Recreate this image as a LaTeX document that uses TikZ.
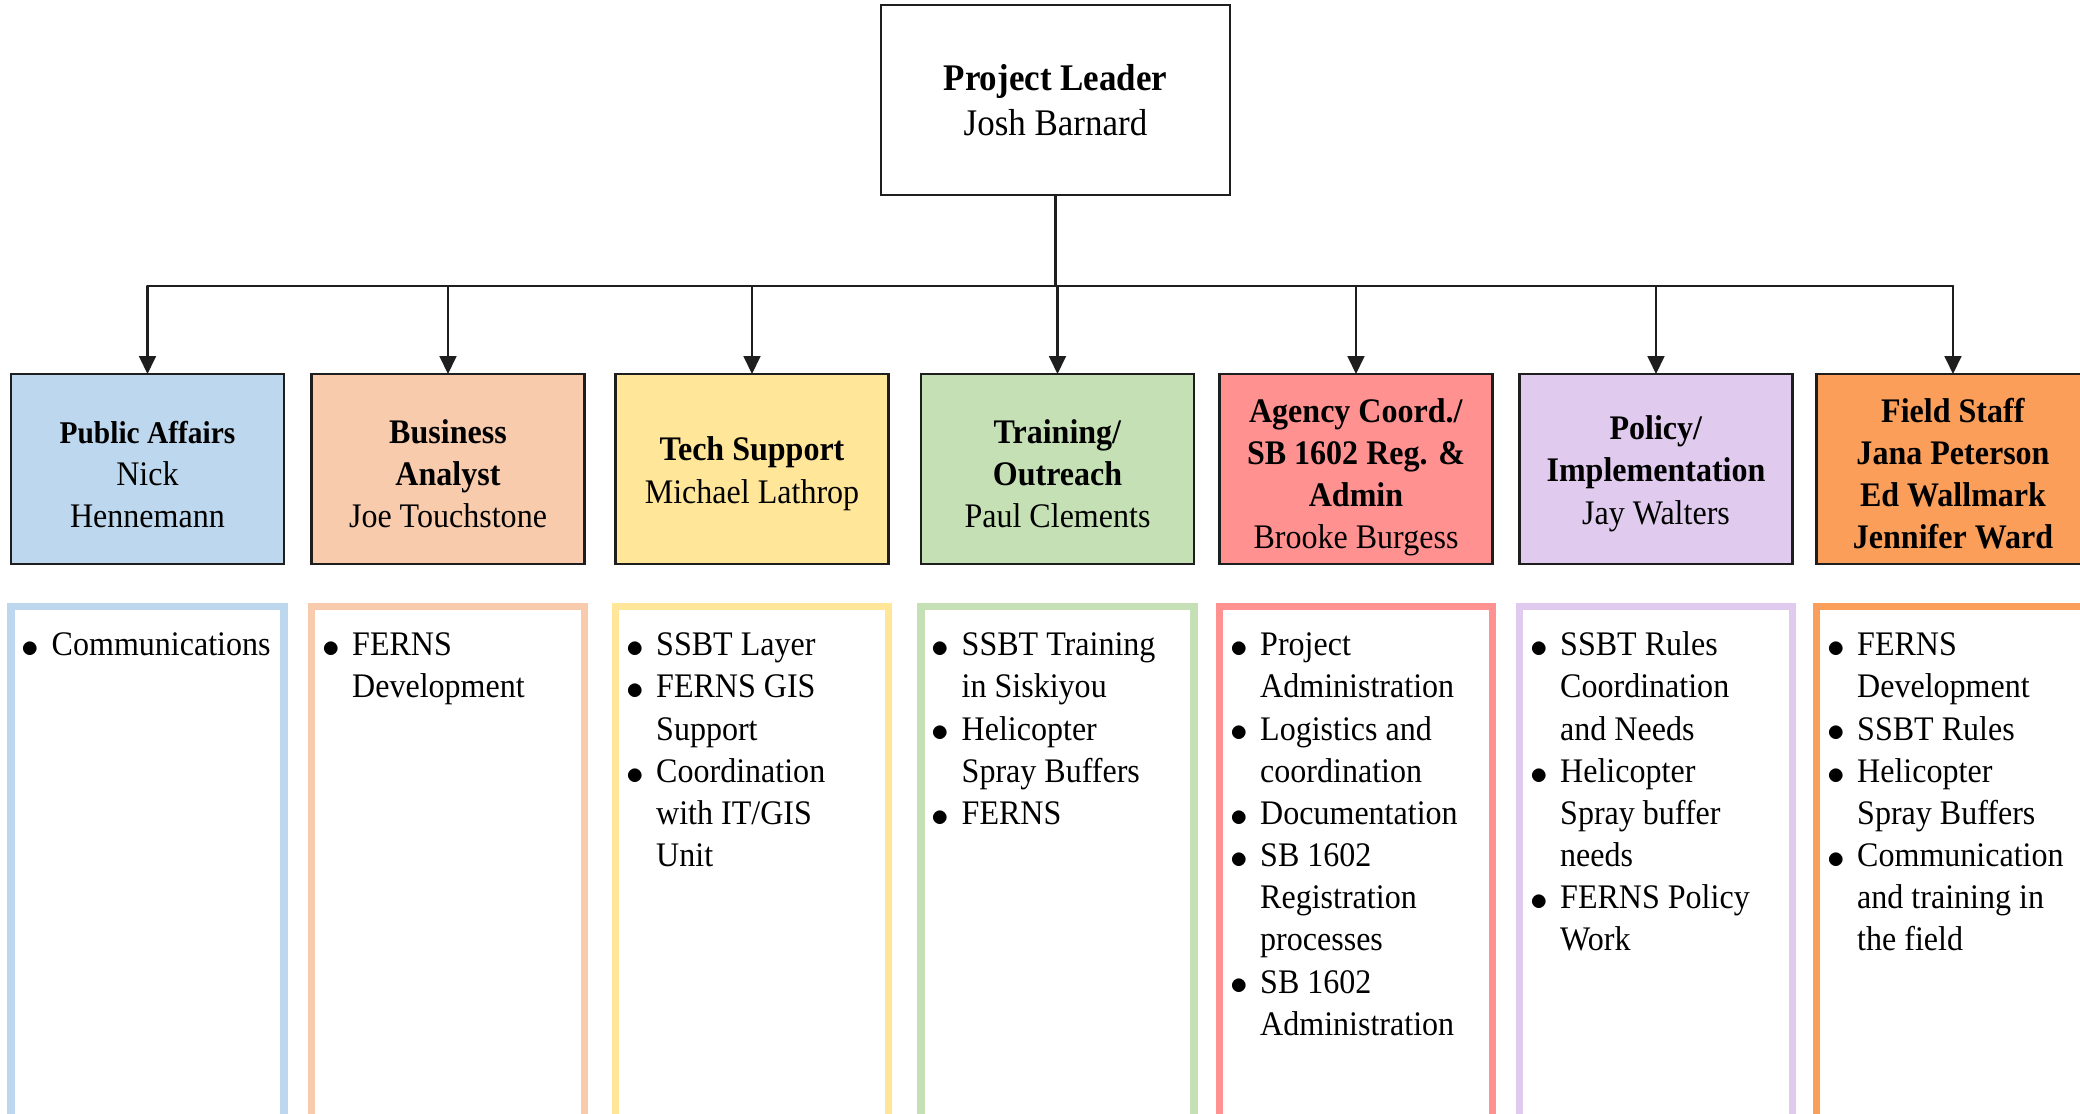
\documentclass[tikz,border=0pt]{standalone}
\usepackage{fontspec}
\setmainfont{Liberation Serif}[FakeStretch=0.93]
\usetikzlibrary{arrows.meta,positioning}
\definecolor{inkc}{RGB}{30,30,30}
\definecolor{pac}{RGB}{189,215,238}
\definecolor{bac}{RGB}{248,203,173}
\definecolor{tsc}{RGB}{255,230,153}
\definecolor{trc}{RGB}{197,224,180}
\definecolor{acc}{RGB}{255,145,145}
\definecolor{pic}{RGB}{224,203,238}
\definecolor{fsc}{RGB}{250,158,90}
\newcommand{\bul}{\makebox[0pt][r]{\raisebox{-0.5pt}{$\bullet$}\hspace{3.5pt}}}
\newcommand{\duties}[1]{\begin{tabular}{@{}l@{}}#1\end{tabular}}
\newcommand{\drop}{\rule{0pt}{9.5pt}}
\tikzset{
  lead/.style={draw=inkc, line width=0.6pt, minimum width=3.49cm, minimum height=1.90cm,
    align=center, inner sep=0pt, outer sep=0pt, font=\fontsize{10.7}{12.8}\selectfont},
  head/.style={draw=inkc, line width=0.6pt, minimum width=2.73cm, minimum height=1.90cm,
    align=center, inner sep=0pt, outer sep=0pt, font=\fontsize{9.8}{12}\selectfont},
  duty/.style={draw=#1, line width=2pt, minimum width=2.73cm, minimum height=6cm,
    inner sep=0pt, outer sep=0pt},
  items/.style={anchor=north west, inner sep=0pt, font=\fontsize{9.8}{12}\selectfont}
}

\begin{document}
\begin{tikzpicture}[>={Triangle[width=4.8pt,length=5.1pt]}, line cap=round]
  \clip (0,0) rectangle (20.80,-11.14);

  % leader
  \node[lead] (pl) at (10.555,-1.00) {\textbf{Project Leader}\\Josh Barnard};
  \coordinate (bar) at (0,-2.86);

  % team headers
  \node[head, fill=pac] (pa) at (1.475,-4.69)
    {\drop{\fontsize{9}{12}\selectfont\textbf{Public Affairs}}\\Nick\\Hennemann};
  \node[head, fill=bac] (ba) at (4.48,-4.69) {\drop\textbf{Business}\\\textbf{Analyst}\\Joe Touchstone};
  \node[head, fill=tsc] (ts) at (7.52,-4.69) {\drop\textbf{Tech Support}\\Michael Lathrop};
  \node[head, fill=trc] (tr) at (10.575,-4.69) {\drop\textbf{Training/}\\\textbf{Outreach}\\Paul Clements};
  \node[head, fill=acc] (ac) at (13.56,-4.69)
    {\rule{0pt}{11.5pt}\textbf{Agency Coord./}\\\textbf{SB 1602 Reg. \&}\\\textbf{Admin}\\Brooke Burgess};
  \node[head, fill=pic] (pi) at (16.56,-4.69) {\drop\textbf{Policy/}\\\textbf{Implementation}\\Jay Walters};
  \node[head, fill=fsc] (fs) at (19.53,-4.69)
    {\drop\textbf{Field Staff}\\\textbf{Jana Peterson}\\\textbf{Ed Wallmark}\\\textbf{Jennifer Ward}};

  % connectors
  \draw[inkc, line width=0.6pt] (pl.south) -- (pl.south |- bar);
  \draw[inkc, line width=0.6pt] (pa.north |- bar) -- (fs.north |- bar);
  \foreach \h in {pa,ba,ts,tr,ac,pi,fs}
    \draw[->, inkc, line width=0.6pt] (\h.north |- bar) -- (\h.north);

  % duty columns
  \node[duty=pac, below=0.425cm of pa] (dpa) {};
  \node[duty=bac, below=0.425cm of ba] (dba) {};
  \node[duty=tsc, below=0.425cm of ts] (dts) {};
  \node[duty=trc, below=0.425cm of tr] (dtr) {};
  \node[duty=acc, below=0.425cm of ac] (dac) {};
  \node[duty=pic, below=0.425cm of pi] (dpi) {};
  \node[duty=fsc, below=0.425cm of fs] (dfs) {};

  \node[items, below right=0.19cm and 0.40cm of dpa.north west] (lpa)
    {\duties{\bul Communications}};
  \node[items, below right=0.19cm and 0.40cm of dba.north west] (lba)
    {\duties{\bul FERNS\\Development}};
  \node[items, below right=0.19cm and 0.40cm of dts.north west] (lts)
    {\duties{\bul SSBT Layer\\\bul FERNS GIS\\Support\\\bul Coordination\\with IT/GIS\\Unit}};
  \node[items, below right=0.19cm and 0.40cm of dtr.north west] (ltr)
    {\duties{\bul SSBT Training\\in Siskiyou\\\bul Helicopter\\Spray Buffers\\\bul FERNS}};
  \node[items, below right=0.19cm and 0.40cm of dac.north west] (lac)
    {\duties{\bul Project\\Administration\\\bul Logistics and\\coordination\\\bul Documentation\\
     \bul SB 1602\\Registration\\processes\\\bul SB 1602\\Administration}};
  \node[items, below right=0.19cm and 0.40cm of dpi.north west] (lpi)
    {\duties{\bul SSBT Rules\\Coordination\\and Needs\\\bul Helicopter\\Spray buffer\\needs\\
     \bul FERNS Policy\\Work}};
  \node[items, below right=0.19cm and 0.40cm of dfs.north west] (lfs)
    {\duties{\bul FERNS\\Development\\\bul SSBT Rules\\\bul Helicopter\\Spray Buffers\\
     \bul Communication\\and training in\\the field}};
\end{tikzpicture}
\end{document}
